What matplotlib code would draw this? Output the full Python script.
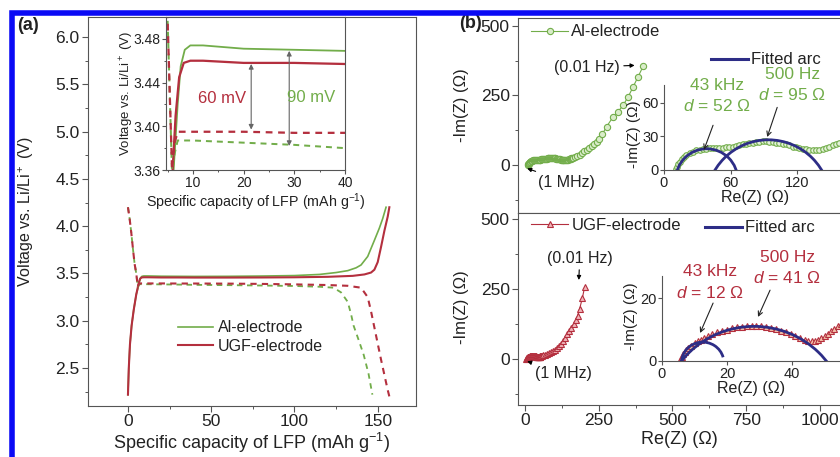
import matplotlib
matplotlib.use('Agg')
import matplotlib.pyplot as plt
from matplotlib.patches import Arc, Rectangle
from matplotlib.lines import Line2D
from matplotlib.ticker import MultipleLocator, FormatStrFormatter

plt.rcParams['font.family'] = ['Liberation Sans', 'DejaVu Sans']
plt.rcParams['mathtext.fontset'] = 'custom'
plt.rcParams['mathtext.rm'] = 'Liberation Sans'
plt.rcParams['mathtext.it'] = 'Liberation Sans:italic'
plt.rcParams['axes.edgecolor'] = '#555555'
plt.rcParams['xtick.color'] = '#555555'
plt.rcParams['ytick.color'] = '#555555'
plt.rcParams['xtick.labelcolor'] = '#222222'
plt.rcParams['ytick.labelcolor'] = '#222222'
plt.rcParams['text.color'] = '#222222'
plt.rcParams['axes.labelcolor'] = '#222222'

GREEN = '#72ad4a'
RED = '#b42f3e'
NAVY = '#2d2d86'

# ---- (a) charge / discharge curves (mAh/g, V) ----
al_chg_cap = [0, 0.5, 1.2, 2.2, 3.5, 5, 6.2, 7.0, 7.6, 8.4, 9.5, 12, 20, 30, 40, 60, 80, 100,
              115, 125, 132, 137, 140, 144, 148, 151, 153, 155]
al_chg_v = [2.22, 2.5, 2.75, 2.95, 3.12, 3.28, 3.36, 3.42, 3.455, 3.470, 3.474, 3.474, 3.471, 3.470,
            3.469, 3.470, 3.473, 3.478, 3.49, 3.51, 3.53, 3.56, 3.59, 3.68, 3.85, 3.98, 4.08, 4.2]
ugf_chg_cap = [0, 0.5, 1.2, 2.2, 3.5, 5, 6.0, 6.6, 7.3, 8.2, 9.5, 12, 20, 30, 40, 60, 80, 100,
               120, 135, 142, 146, 148, 150, 152, 154, 156, 157]
ugf_chg_v = [2.22, 2.5, 2.75, 2.95, 3.12, 3.28, 3.36, 3.41, 3.445, 3.458, 3.460, 3.460, 3.458, 3.458,
             3.457, 3.457, 3.458, 3.46, 3.465, 3.475, 3.49, 3.51, 3.54, 3.62, 3.78, 3.95, 4.1, 4.2]
al_dis_cap = [0, 1, 2, 3, 4, 5, 5.5, 5.9, 6.4, 7, 10, 20, 30, 40, 60, 80, 100, 115, 123.5, 128,
              132, 134, 135.5, 138.5, 141.6, 144.5, 146.8]
al_dis_v = [4.2, 4.08, 3.93, 3.76, 3.6, 3.5, 3.42, 3.355, 3.375, 3.387, 3.387, 3.385, 3.383, 3.380,
            3.377, 3.373, 3.368, 3.36, 3.35, 3.30, 3.20, 3.07, 2.95, 2.80, 2.64, 2.44, 2.22]
ugf_dis_cap = [0, 1, 2, 3, 4, 5, 5.5, 5.9, 6.4, 7, 10, 20, 30, 40, 60, 80, 100, 120, 132, 140,
               144, 146, 148, 150, 152, 154, 156, 157]
ugf_dis_v = [4.2, 4.08, 3.93, 3.76, 3.6, 3.5, 3.42, 3.36, 3.385, 3.395, 3.395, 3.395, 3.394, 3.394,
             3.393, 3.39, 3.385, 3.378, 3.37, 3.35, 3.25, 3.1, 2.93, 2.76, 2.59, 2.43, 2.27, 2.2]

# ---- (b) Nyquist data (ohm) ----
al_hf_re = [11, 12, 13, 14, 16, 18, 20, 23, 26, 29, 32, 35, 38, 41, 44, 47, 50, 53, 56, 59, 62, 65,
            68, 71, 74, 77, 80, 83, 86, 89, 92, 95, 98, 101, 104, 107, 110, 113, 116, 119, 122, 125,
            128, 131, 134, 137, 140, 143, 146, 149, 152, 155, 158, 161, 164]
al_hf_im = [0.5, 3, 5.5, 7.5, 10, 12, 13.5, 15, 16.5, 17.5, 18, 18.5, 19, 19.5, 19.5, 20, 20, 20,
            20.5, 20.5, 21, 21.5, 22, 23, 23.5, 24, 24.5, 25, 25, 25.5, 25.5, 25, 25, 24.5, 24, 23.5,
            23, 22, 21, 20.5, 19.5, 19, 18.5, 18, 18, 18, 18, 18.5, 19.5, 20.5, 22, 23, 24, 25.5, 27]
al_lf_re = [170, 178, 186, 194, 202, 210, 218, 226, 234, 243, 252, 262, 277, 299, 316, 333, 350,
            367, 384, 401]
al_lf_im = [29, 33, 38, 43, 49, 55, 61, 67, 75, 84, 95, 110, 138, 173, 192, 215, 245, 281, 318, 355]

ugf_hf_re = [5.5, 6, 6.5, 7, 7.5, 8, 9, 10, 11, 12, 13, 14, 15.5, 17, 18.5, 20, 21.5, 23, 24.5, 26,
             27.5, 29, 30.5, 32, 33.5, 35, 36.5, 38, 39.5, 41, 42.5, 44, 45, 46, 47, 48, 49, 50, 51,
             52, 53, 54, 55]
ugf_hf_im = [0.3, 1.2, 2.2, 3, 3.6, 4.1, 4.9, 5.6, 6.2, 6.8, 7.3, 7.8, 8.5, 9.1, 9.6, 10, 10.4,
             10.7, 10.9, 11, 11.1, 11.1, 11, 10.8, 10.5, 10.1, 9.6, 9.1, 8.5, 7.9, 7.3, 6.7, 6.3, 6.2,
             6.4, 6.8, 7.3, 7.9, 8.6, 9.4, 10.2, 11, 11.8]
ugf_lf_re = [57, 62, 67, 74, 81, 88, 95, 102, 109, 116, 123, 130, 137, 144, 151, 158, 165, 172, 179,
             186, 195, 203]
ugf_lf_im = [12.5, 14, 15.5, 18, 21, 24, 28, 33, 39, 46, 54, 64, 76, 89, 100, 112, 124, 138, 155,
             180, 218, 258]

# fitted arcs: centre x, centre y, radius, start angle
al_arc_cx = [38.5, 94]
al_arc_cy = [-9, -29.2]
al_arc_r = [28, 56.2]
al_arc_t1 = [0, 0]
ugf_arc_cx = [12.5, 28.25]
ugf_arc_cy = [-0.5, -17]
ugf_arc_r = [6.5, 28]
ugf_arc_t1 = [15, 0]

W, H = 840, 457
fig = plt.figure(figsize=(W / 100, H / 100), dpi=100)


def box(l, t, r, b):
    return [l / W, 1 - b / H, (r - l) / W, (b - t) / H]


def ticks(ax, size, length=4.5, pad=1.5):
    ax.tick_params(which='major', direction='out', length=length, width=0.8, labelsize=size, pad=pad)
    ax.tick_params(which='minor', direction='out', length=length * 0.55, width=0.7)


def draw_curves(ax, lw):
    ax.plot(al_chg_cap, al_chg_v, color=GREEN, lw=lw, label='Al-electrode')
    ax.plot(ugf_chg_cap, ugf_chg_v, color=RED, lw=lw * 1.25, label='UGF-electrode')
    ax.plot(al_dis_cap, al_dis_v, color=GREEN, lw=lw * 1.1, ls=(0, (3, 2.5)))
    ax.plot(ugf_dis_cap, ugf_dis_v, color=RED, lw=lw * 1.25, ls=(0, (3, 2.5)))


# ---------- panel (a) ----------
ax_a = fig.add_axes(box(88, 17, 416, 406))
draw_curves(ax_a, 1.2)
ax_a.set_xlim(-24, 173)
ax_a.set_ylim(2.1, 6.21)
ax_a.set_xticks([0, 50, 100, 150])
ax_a.xaxis.set_minor_locator(MultipleLocator(25))
ax_a.yaxis.set_major_locator(MultipleLocator(0.5))
ax_a.yaxis.set_minor_locator(MultipleLocator(0.25))
ax_a.yaxis.set_major_formatter(FormatStrFormatter('%.1f'))
ticks(ax_a, 12.5)
ax_a.set_xlabel('Specific capacity of LFP (mAh g$^{-1}$)', fontsize=13)
ax_a.set_ylabel('Voltage vs. Li/Li$^+$ (V)', fontsize=11.5)
ax_a.xaxis.set_label_coords(0.5, -0.065)
ax_a.yaxis.set_label_coords(-0.16, 0.5)
ax_a.legend(loc='center left', bbox_to_anchor=(170 / W, 1 - 337 / H), bbox_transform=fig.transFigure,
            frameon=False, fontsize=11.5, handlelength=2.2, handletextpad=0.3, labelspacing=0.2,
            borderpad=0)

ax_ai = fig.add_axes(box(166, 17, 345, 170))
draw_curves(ax_ai, 1.3)
ax_ai.set_xlim(4.7, 40)
ax_ai.set_ylim(3.36, 3.50)
ax_ai.set_xticks([10, 20, 30, 40])
ax_ai.xaxis.set_minor_locator(MultipleLocator(5))
ax_ai.set_yticks([3.36, 3.40, 3.44, 3.48])
ax_ai.yaxis.set_minor_locator(MultipleLocator(0.02))
ticks(ax_ai, 10, length=3, pad=1)
ax_ai.set_xlabel('Specific capacity of LFP (mAh g$^{-1}$)', fontsize=10.3)
ax_ai.set_ylabel('Voltage vs. Li/Li$^+$ (V)', fontsize=9.5)
ax_ai.xaxis.set_label_coords(0.5, -0.14)
ax_ai.yaxis.set_label_coords(-0.17, 0.5)
arrow = dict(arrowstyle='<|-|>', color='#666666', lw=0.8, mutation_scale=7, shrinkA=0, shrinkB=0)
ax_ai.annotate('', xy=(21.5, 3.397), xytext=(21.5, 3.457), arrowprops=arrow)
ax_ai.annotate('', xy=(29, 3.382), xytext=(29, 3.469), arrowprops=arrow)
ax_ai.text(15.7, 3.4257, '60 mV', color=RED, fontsize=12, ha='center', va='center')
ax_ai.text(33.4, 3.426, '90 mV', color=GREEN, fontsize=12, ha='center', va='center')

# ---------- panel (b) ----------
al_re = al_hf_re + al_lf_re
al_im = al_hf_im + al_lf_im
ugf_re = ugf_hf_re + ugf_lf_re
ugf_im = ugf_hf_im + ugf_lf_im

ax_b1 = fig.add_axes(box(518, 17.5, 841, 213))
ax_b2 = fig.add_axes(box(518, 213, 841, 405))
ax_b1.plot(al_re, al_im, color=GREEN, lw=0.8, marker='o', ms=4.5, mec=GREEN, mfc='#d9ecc9',
           mew=0.8, label='Al-electrode')
ax_b2.plot(ugf_re, ugf_im, color=RED, lw=0.8, marker='^', ms=4.5, mec=RED, mfc='#f0b4b8',
           mew=0.8, label='UGF-electrode')
ax_b1.set_ylim(-172, 530)
ax_b2.set_ylim(-164, 521)
for ax in (ax_b1, ax_b2):
    ax.set_xlim(-23, 1071)
    ax.set_xticks([0, 250, 500, 750, 1000])
    ax.xaxis.set_minor_locator(MultipleLocator(125))
    ax.set_yticks([0, 250, 500])
    ax.yaxis.set_minor_locator(MultipleLocator(125))
    ticks(ax, 12.5)
    ax.set_ylabel('-Im(Z) (Ω)', fontsize=12)
    ax.legend(loc='center left', bbox_to_anchor=(523 / W, 1 - (32 if ax is ax_b1 else 225) / H),
              bbox_transform=fig.transFigure, frameon=False, fontsize=12, handlelength=2.2,
              handletextpad=0.2, borderpad=0, numpoints=1)
ax_b1.yaxis.set_label_coords(-0.152, 0.55)
ax_b2.yaxis.set_label_coords(-0.152, 0.51)
ax_b1.tick_params(labelbottom=False)
ax_b2.set_xlabel('Re(Z) (Ω)', fontsize=13)
ax_b2.xaxis.set_label_coords(0.5, -0.135)

aro = dict(arrowstyle='-|>', color='k', lw=0.8, mutation_scale=6, shrinkA=1, shrinkB=0)
ax_b1.annotate('(0.01 Hz)', xy=(372, 358), xytext=(210, 352), ha='center', va='center',
               fontsize=11.5, arrowprops=aro)
ax_b1.annotate('(1 MHz)', xy=(8, -12), xytext=(142, -61), ha='center', va='center',
               fontsize=11.5, arrowprops=aro)
ax_b2.annotate('(0.01 Hz)', xy=(183, 282), xytext=(186, 360), ha='center', va='center',
               fontsize=11.5, arrowprops=aro)
ax_b2.annotate('(1 MHz)', xy=(8, -8), xytext=(130, -51), ha='center', va='center',
               fontsize=11.5, arrowprops=aro)

ax_bi1 = fig.add_axes(box(664, 85, 846, 170))
ax_bi2 = fig.add_axes(box(662, 276, 841, 361))
ax_bi1.plot(al_hf_re, al_hf_im, ls='none', marker='o', ms=4, mec=GREEN, mfc='#e3f1d8', mew=0.8)
ax_bi2.plot(ugf_hf_re, ugf_hf_im, ls='none', marker='^', ms=4, mec=RED, mfc='#f3c0a8', mew=0.8)
for ax, cx, cy, rr, t1 in ((ax_bi1, al_arc_cx, al_arc_cy, al_arc_r, al_arc_t1),
                           (ax_bi2, ugf_arc_cx, ugf_arc_cy, ugf_arc_r, ugf_arc_t1)):
    for i in range(len(cx)):
        ax.add_patch(Arc((cx[i], cy[i]), 2 * rr[i], 2 * rr[i], theta1=t1[i], theta2=180,
                         color=NAVY, lw=2, zorder=3))
    ax.set_facecolor('none')
    ax.spines['top'].set_visible(False)
    ax.spines['right'].set_visible(False)
    ticks(ax, 10.5, length=3, pad=1)
    ax.set_xlabel('Re(Z) (Ω)', fontsize=11.5)
    ax.set_ylabel('-Im(Z) (Ω)', fontsize=11)
    ax.xaxis.set_label_coords(0.5, -0.24)
    ax.legend(handles=[Line2D([], [], color=NAVY, lw=2.2, label='Fitted arc')], loc='center left',
              bbox_to_anchor=((703 if ax is ax_bi1 else 697) / W, 1 - (60 if ax is ax_bi1 else 228) / H),
              bbox_transform=fig.transFigure, frameon=False, fontsize=12, handlelength=2.2,
              handletextpad=0.2, borderpad=0)
ax_bi1.yaxis.set_label_coords(-0.128, 0.42)
ax_bi2.yaxis.set_label_coords(-0.135, 0.53)
ax_bi1.set_xlim(0, 164)
ax_bi1.set_ylim(0, 76)
ax_bi1.set_xticks([0, 60, 120])
ax_bi1.set_yticks([0, 30, 60])
ax_bi2.set_xlim(0, 55)
ax_bi2.set_ylim(0, 27)
ax_bi2.set_xticks([0, 20, 40])
ax_bi2.set_yticks([0, 20])

kw = dict(fontsize=12.5, ha='center', va='center', clip_on=False)
ax_bi1.text(47.8, 76, '43 kHz', color=GREEN, **kw)
ax_bi1.text(47.8, 57.3, '$d$ = 52 Ω', color=GREEN, **kw)
ax_bi1.text(115.5, 85, '500 Hz', color=GREEN, **kw)
ax_bi1.text(115.5, 67, '$d$ = 95 Ω', color=GREEN, **kw)
ax_bi2.text(14.8, 28.3, '43 kHz', color=RED, **kw)
ax_bi2.text(14.8, 21.6, '$d$ = 12 Ω', color=RED, **kw)
ax_bi2.text(38.5, 33, '500 Hz', color=RED, **kw)
ax_bi2.text(38.5, 26.3, '$d$ = 41 Ω', color=RED, **kw)
thin = dict(arrowstyle='->', color='#222222', lw=0.8, mutation_scale=8, shrinkA=0, shrinkB=0)
ax_bi1.annotate('', xy=(36, 18), xytext=(44.2, 40), arrowprops=thin)
ax_bi1.annotate('', xy=(93, 29.5), xytext=(102, 56), arrowprops=thin)
ax_bi2.annotate('', xy=(11.7, 8.9), xytext=(15.7, 18.4), arrowprops=thin)
ax_bi2.annotate('', xy=(29.5, 14), xytext=(33.2, 22.5), arrowprops=thin)

fig.text(27.5 / W, 1 - 25 / H, '(a)', fontsize=13, fontweight='bold', ha='center', va='center')
fig.text(470 / W, 1 - 23 / H, '(b)', fontsize=13, fontweight='bold', ha='center', va='center')

fig.add_artist(Rectangle((11.5 / W, -0.05), 1.2, 1 - 12.5 / H + 0.05, transform=fig.transFigure,
                         fill=False, edgecolor='#0a0af5', lw=4, zorder=10, clip_on=False))

fig.savefig('out.png', dpi=100)
